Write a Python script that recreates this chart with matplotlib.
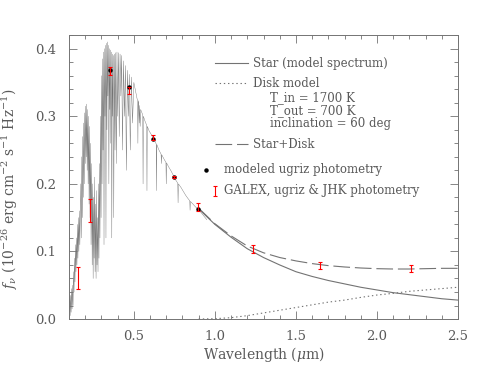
import matplotlib

matplotlib.use("Agg")
import matplotlib.pyplot as plt

# model stellar spectrum (micron, 1e-26 erg/cm2/s/Hz)
spec_wl = [
    0.100, 0.104, 0.107, 0.110, 0.113, 0.116, 0.119, 0.122, 0.125,
    0.128, 0.131, 0.134, 0.137, 0.140, 0.143, 0.146, 0.149, 0.152, 0.155,
    0.158, 0.161, 0.164, 0.167, 0.170,
    0.173, 0.176, 0.179, 0.182, 0.185, 0.188, 0.191, 0.194, 0.197, 0.200,
    0.203, 0.206, 0.209, 0.212, 0.215, 0.218, 0.221, 0.224, 0.227, 0.230,
    0.233, 0.236,
    0.240, 0.243, 0.246, 0.249, 0.252, 0.255, 0.258, 0.261, 0.264, 0.267,
    0.270, 0.273, 0.276, 0.279, 0.282, 0.285, 0.288, 0.291,
    0.295, 0.298, 0.301, 0.304, 0.307, 0.310, 0.313, 0.316, 0.319, 0.322,
    0.325, 0.328, 0.331, 0.334, 0.337, 0.340, 0.343, 0.346, 0.349, 0.352,
    0.355, 0.358, 0.361, 0.364, 0.367,
    0.370, 0.373, 0.376, 0.380, 0.384, 0.388, 0.392, 0.396, 0.400, 0.405,
    0.410, 0.415, 0.420, 0.425, 0.430, 0.436, 0.442, 0.448, 0.454, 0.460,
    0.466, 0.472, 0.478, 0.485, 0.492, 0.500,
    0.510, 0.520, 0.523, 0.525, 0.527, 0.530, 0.533, 0.536, 0.539, 0.542,
    0.550, 0.555, 0.557, 0.559, 0.570, 0.579, 0.581, 0.583, 0.595, 0.605,
    0.615, 0.625, 0.638, 0.640, 0.642, 0.655, 0.668, 0.670, 0.672, 0.690,
    0.698, 0.700, 0.702, 0.715, 0.730, 0.745, 0.760, 0.771, 0.773, 0.775,
    0.790, 0.805, 0.820, 0.835, 0.845, 0.847, 0.849, 0.865, 0.880, 0.895,
    0.910, 0.930, 0.950,
]
spec_fnu = [
    0.010, 0.040, 0.005, 0.035, 0.010, 0.045, 0.015, 0.050, 0.020,
    0.070, 0.040, 0.090, 0.055, 0.110, 0.070, 0.120, 0.080, 0.140, 0.090,
    0.150, 0.100, 0.160, 0.110, 0.155,
    0.200, 0.120, 0.240, 0.150, 0.270, 0.180, 0.290, 0.200, 0.305, 0.230,
    0.315, 0.240, 0.318, 0.220, 0.310, 0.200, 0.300, 0.170, 0.285, 0.150,
    0.260, 0.110,
    0.230, 0.080, 0.200, 0.060, 0.180, 0.090, 0.210, 0.070, 0.170, 0.060,
    0.190, 0.080, 0.150, 0.070, 0.200, 0.090, 0.230, 0.120,
    0.300, 0.150, 0.360, 0.200, 0.385, 0.250, 0.395, 0.110, 0.400, 0.300,
    0.405, 0.120, 0.408, 0.280, 0.410, 0.330, 0.405, 0.200, 0.400, 0.310,
    0.398, 0.260, 0.395, 0.120, 0.392,
    0.300, 0.390, 0.150, 0.392, 0.250, 0.394, 0.230, 0.395, 0.300, 0.394,
    0.270, 0.392, 0.330, 0.390, 0.250, 0.382, 0.300, 0.375, 0.220, 0.368,
    0.300, 0.362, 0.250, 0.358, 0.290, 0.350,
    0.338, 0.326, 0.324, 0.260, 0.323, 0.320, 0.290, 0.316, 0.285, 0.310,
    0.305, 0.302, 0.200, 0.300, 0.292, 0.287, 0.190, 0.285, 0.278, 0.274,
    0.270, 0.266, 0.259, 0.190, 0.258, 0.250, 0.244, 0.230, 0.243, 0.235,
    0.232, 0.200, 0.231, 0.225, 0.219, 0.212, 0.205, 0.201, 0.172, 0.200,
    0.195, 0.189, 0.183, 0.178, 0.175, 0.161, 0.174, 0.170, 0.166, 0.163,
    0.159, 0.153, 0.147,
]
assert len(spec_wl) == len(spec_fnu)

# smooth near-IR curves
ir_wl = [0.90, 1.00, 1.10, 1.20, 1.30, 1.40, 1.50, 1.60, 1.70, 1.80,
         1.90, 2.00, 2.10, 2.20, 2.30, 2.40, 2.50]
star_fnu = [0.163, 0.140, 0.121, 0.104, 0.091, 0.080, 0.070, 0.063, 0.057,
            0.052, 0.047, 0.043, 0.039, 0.036, 0.033, 0.030, 0.028]
disk_fnu = [0.000, 0.0005, 0.002, 0.005, 0.009, 0.013, 0.017, 0.021, 0.025,
            0.028, 0.032, 0.0355, 0.038, 0.041, 0.043, 0.045, 0.047]
sum_fnu = [0.164, 0.141, 0.123, 0.108, 0.098, 0.091, 0.086, 0.082, 0.079,
           0.077, 0.0755, 0.0745, 0.074, 0.074, 0.0745, 0.075, 0.075]

# modeled ugriz photometry
model_wl = [0.353, 0.472, 0.619, 0.750, 0.898]
model_fnu = [0.369, 0.343, 0.266, 0.210, 0.163]

# GALEX, ugriz & JHK photometry
phot_wl = [0.154, 0.230, 0.353, 0.472, 0.619, 0.750, 0.898, 1.238, 1.647, 2.213]
phot_fnu = [0.061, 0.160, 0.367, 0.338, 0.269, 0.210, 0.166, 0.103, 0.079, 0.075]
phot_err = [0.016, 0.017, 0.006, 0.005, 0.004, 0.002, 0.006, 0.006, 0.005, 0.005]

plt.rcParams["font.family"] = "DejaVu Serif"
plt.rcParams["mathtext.fontset"] = "dejavuserif"
plt.rcParams["lines.scale_dashes"] = False
txt = "0.35"
lc = "0.45"

fig = plt.figure(figsize=(5.0, 3.74), dpi=100)
ax = fig.add_axes([0.138, 0.147, 0.778, 0.759])

ax.plot(spec_wl, spec_fnu, color="0.45", lw=0.3)
ax.plot(ir_wl, star_fnu, color=lc, lw=0.8)
ax.plot(ir_wl, disk_fnu, color=lc, lw=0.8, ls=(0, (1, 2)))
ax.plot(ir_wl, sum_fnu, color=lc, lw=0.8, ls=(0, (12, 3.5)))
ax.plot(model_wl, model_fnu, "o", color="black", ms=2.2)
ax.errorbar(phot_wl, phot_fnu, yerr=phot_err, fmt="none", ecolor="red",
            elinewidth=0.8, capsize=1.5, capthick=0.8)

ax.set_xlim(0.1, 2.5)
ax.set_ylim(0.0, 0.42)
ax.set_xticks([0.5, 1.0, 1.5, 2.0, 2.5])
ax.set_xticks([x / 10 for x in range(1, 26)], minor=True)
ax.set_yticks([0.0, 0.1, 0.2, 0.3, 0.4])
ax.set_yticks([y / 100 for y in range(0, 43, 2)], minor=True)
ax.tick_params(which="both", direction="in", top=True, right=True,
               colors=lc, labelcolor=txt, labelsize=9.5, width=0.6)
ax.tick_params(which="major", length=6)
ax.tick_params(which="minor", length=3)
ax.tick_params(axis="y", which="major", pad=9)
ax.tick_params(axis="x", which="major", pad=8)
for s in ax.spines.values():
    s.set_color(lc)
    s.set_linewidth(0.7)

ax.set_xlabel(r"Wavelength ($\mu$m)", color=txt, fontsize=10, labelpad=1)
ax.set_ylabel(r"$f_\nu$ (10$^{-26}$ erg cm$^{-2}$ s$^{-1}$ Hz$^{-1}$)",
              color=txt, fontsize=10)
ax.yaxis.set_label_coords(-0.125, 0.46)

# hand-made legend
T = ax.transAxes
fs = 8.5
ax.plot([0.375, 0.46], [0.901, 0.901], color=lc, lw=0.8, transform=T)
ax.text(0.473, 0.901, "Star (model spectrum)", transform=T, va="center",
        color=txt, fontsize=fs)
ax.plot([0.375, 0.46], [0.830, 0.830], color=lc, lw=0.8, ls=(0, (1, 2)),
        transform=T)
ax.text(0.473, 0.830, "Disk model", transform=T, va="center", color=txt,
        fontsize=fs)
ax.text(0.517, 0.779, "T_in = 1700 K", transform=T, va="center", color=txt,
        fontsize=fs)
ax.text(0.517, 0.733, "T_out = 700 K", transform=T, va="center", color=txt,
        fontsize=fs)
ax.text(0.517, 0.689, "inclination = 60 deg", transform=T, va="center",
        color=txt, fontsize=fs)
ax.plot([0.375, 0.46], [0.615, 0.615], color=lc, lw=0.8, ls=(0, (12, 3.5)),
        transform=T)
ax.text(0.473, 0.615, "Star+Disk", transform=T, va="center", color=txt,
        fontsize=fs)
ax.plot([0.352], [0.525], "o", color="black", ms=2.2, transform=T)
ax.text(0.398, 0.525, "modeled ugriz photometry", transform=T, va="center",
        color=txt, fontsize=fs)
ax.errorbar([0.375], [0.451], yerr=[0.018], fmt="none", ecolor="red",
            elinewidth=0.8, capsize=1.5, capthick=0.8, transform=T)
ax.text(0.398, 0.451, "GALEX, ugriz & JHK photometry", transform=T,
        va="center", color=txt, fontsize=fs)

fig.savefig("out.png", dpi=100)
